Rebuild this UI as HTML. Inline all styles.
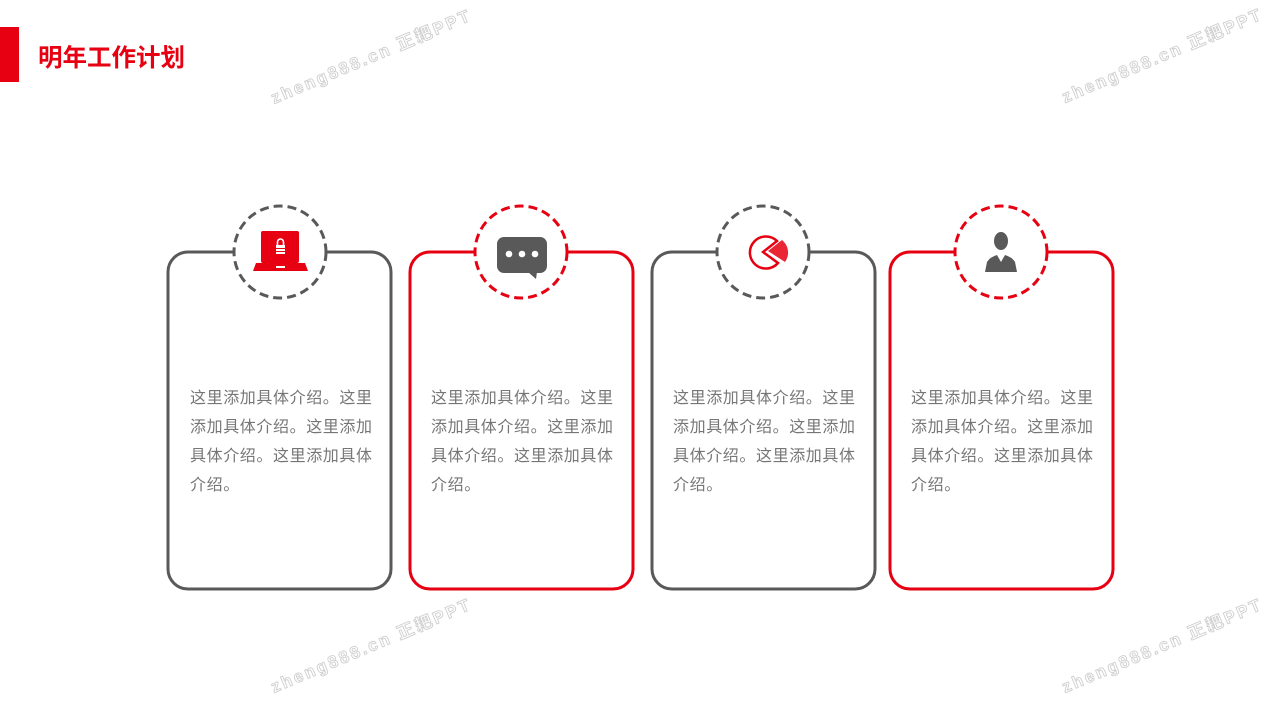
<!DOCTYPE html>
<html><head><meta charset="utf-8"><style>
html,body{margin:0;padding:0;background:#fff;}
body{width:1280px;height:720px;overflow:hidden;position:relative;font-family:"Liberation Sans","Noto Sans CJK SC",sans-serif;}
.t{position:absolute;width:192px;font-size:16px;letter-spacing:0.6px;line-height:29px;color:#767676;}
</style></head><body>
<svg width="1280" height="720" style="position:absolute;left:0;top:0">
<rect x="0" y="27" width="19" height="55" fill="#e60012"/>
<text x="38" y="66" font-size="24.5" font-weight="bold" fill="#e60012" font-family="Liberation Sans,Noto Sans CJK SC,sans-serif">明年工作计划</text>
<g font-family="Liberation Sans,Noto Sans CJK SC,sans-serif" font-size="17" font-weight="bold" fill="#fff" stroke="#cfcfcf" stroke-width="0.9" letter-spacing="2.5">
<text transform="translate(274,104) rotate(-23)">zheng888.cn 正耙PPT</text>
<text transform="translate(1065,103) rotate(-23)">zheng888.cn 正耙PPT</text>
<text transform="translate(274,693) rotate(-23)">zheng888.cn 正耙PPT</text>
<text transform="translate(1065,693) rotate(-23)">zheng888.cn 正耙PPT</text>
</g>
<g fill="none" stroke-width="3">
<path d="M233 252 H188 A20 20 0 0 0 168 272 V569 A20 20 0 0 0 188 589 H371 A20 20 0 0 0 391 569 V272 A20 20 0 0 0 371 252 H327" stroke="#595959"/>
<circle cx="280" cy="252" r="46" stroke="#595959" stroke-dasharray="9 5"/>
<path d="M475 252 H430 A20 20 0 0 0 410 272 V569 A20 20 0 0 0 430 589 H613 A20 20 0 0 0 633 569 V272 A20 20 0 0 0 613 252 H568" stroke="#e60012"/>
<circle cx="521" cy="252" r="46" stroke="#e60012" stroke-dasharray="9 5"/>
<path d="M717 252 H672 A20 20 0 0 0 652 272 V569 A20 20 0 0 0 672 589 H855 A20 20 0 0 0 875 569 V272 A20 20 0 0 0 855 252 H810" stroke="#595959"/>
<circle cx="763" cy="252" r="46" stroke="#595959" stroke-dasharray="9 5"/>
<path d="M955 252 H910 A20 20 0 0 0 890 272 V569 A20 20 0 0 0 910 589 H1093 A20 20 0 0 0 1113 569 V272 A20 20 0 0 0 1093 252 H1048" stroke="#e60012"/>
<circle cx="1001" cy="252" r="46" stroke="#e60012" stroke-dasharray="9 5"/>
</g>
<rect x="261" y="231" width="38" height="32" rx="2" fill="#e60012"/>
<polygon points="256,263 305,263 308,271 253,271" fill="#e60012"/>
<rect x="276" y="245" width="9" height="9" fill="#fff"/>
<path d="M277.5 245 v-3 a3 3 0 0 1 6 0 v3" stroke="#fff" stroke-width="1.6" fill="none"/>
<rect x="276" y="248" width="9" height="1" fill="#e60012"/><rect x="276" y="251" width="9" height="1" fill="#e60012"/>
<rect x="276" y="266" width="9" height="2" fill="#fff"/>
<rect x="497" y="237" width="50" height="36" rx="7" fill="#595959"/>
<polygon points="528,272 537,272 536,279" fill="#595959"/>
<circle cx="509" cy="254" r="3.3" fill="#fff"/><circle cx="522" cy="254" r="3.3" fill="#fff"/><circle cx="535" cy="254" r="3.3" fill="#fff"/>
<path d="M777 241 A16 16 0 1 0 778 263 L763 252 Z" fill="none" stroke="#e60012" stroke-width="2.5"/>
<path d="M768 251 L782 240 A16 16 0 0 1 785 262 Z" fill="#e60012" opacity="0.85"/>
<ellipse cx="1001" cy="241" rx="7" ry="9" fill="#595959"/>
<path d="M985 272 L987 262 Q990 257 997 255 L1001 262 L1005 255 Q1012 257 1015 262 L1017 272 Z" fill="#595959"/>
</svg>
<div class="t" style="left:190px;top:384px">这里添加具体介绍。这里添加具体介绍。这里添加具体介绍。这里添加具体介绍。</div>
<div class="t" style="left:431px;top:384px">这里添加具体介绍。这里添加具体介绍。这里添加具体介绍。这里添加具体介绍。</div>
<div class="t" style="left:673px;top:384px">这里添加具体介绍。这里添加具体介绍。这里添加具体介绍。这里添加具体介绍。</div>
<div class="t" style="left:911px;top:384px">这里添加具体介绍。这里添加具体介绍。这里添加具体介绍。这里添加具体介绍。</div>
</body></html>
